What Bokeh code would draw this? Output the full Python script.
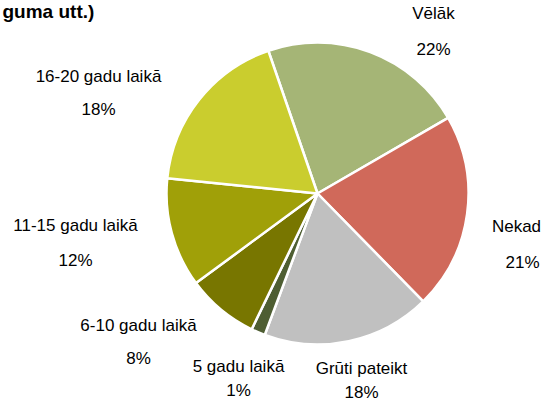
import numpy as np
from bokeh.plotting import figure
from bokeh.models import Range1d, ColumnDataSource
from bokeh.core.properties import value
from bokeh.embed import file_html
from bokeh.resources import INLINE

categories = ["Vēlāk", "Nekad", "Grūti pateikt", "5 gadu laikā", "6-10 gadu laikā", "11-15 gadu laikā", "16-20 gadu laikā"]
shares = [21.9, 21.0, 18.0, 1.5, 7.7, 11.7, 18.1]
pct_labels = ["22%", "21%", "18%", "1%", "8%", "12%", "18%"]
colors = ["#A5B576", "#D0695A", "#C0C0C0", "#4E5E32", "#787600", "#A0A008", "#CACD2E"]
title_text = "guma utt.)"

# layout (screen pixel positions of the label blocks, y measured from top)
label_x = [441, 524, 369, 246, 146, 83, 106]
label_x2 = [441, 530, 369, 246, 146, 83, 106]
label_y1 = [21, 234, 376, 374, 333, 233, 84]
label_y2 = [57, 270, 400, 398, 366, 268, 117]
W, H = 558, 419
cx, cy, r = 325, 201, 151
start_deg = 109.0

FONT = "Liberation Sans"
FS = "17px"

p = figure(width=542, height=403, x_range=Range1d(8, 550), y_range=Range1d(8, 411),
           output_backend="svg", toolbar_location=None, min_border=0,
           x_axis_location=None, y_axis_location=None)
p.grid.visible = False
p.outline_line_color = None
p.background_fill_color = "white"
p.border_fill_color = "white"

vals = np.array(shares, dtype=float)
frac = vals / vals.sum() * 360.0
cum = np.concatenate([[0], np.cumsum(frac)])
ends = np.radians(start_deg - cum[:-1])
starts = np.radians(start_deg - cum[1:])

src = ColumnDataSource(dict(start=starts, end=ends, color=colors, cat=categories))
p.wedge(x=cx, y=H - cy, radius=r, start_angle="start", end_angle="end",
        fill_color="color", line_color="white", line_width=2.5, source=src)

lsrc = ColumnDataSource(dict(x=label_x, x2=label_x2, y1=[H - v for v in label_y1],
                             y2=[H - v for v in label_y2], cat=categories, pct=pct_labels))
p.text(x="x", y="y1", text="cat", source=lsrc, text_font=value(FONT), text_font_size=FS,
       text_align="center", text_baseline="middle", text_color="#000000")
p.text(x="x2", y="y2", text="pct", source=lsrc, text_font=value(FONT), text_font_size=FS,
       text_align="center", text_baseline="middle", text_color="#000000")

p.text(x=[10], y=[H - 19], text=[title_text], text_font=value("Liberation Sans"),
       text_font_size="19px", text_font_style="bold", text_align="left",
       text_baseline="middle", text_color="#000000")

open("out.html", "w").write(file_html(p, INLINE))
